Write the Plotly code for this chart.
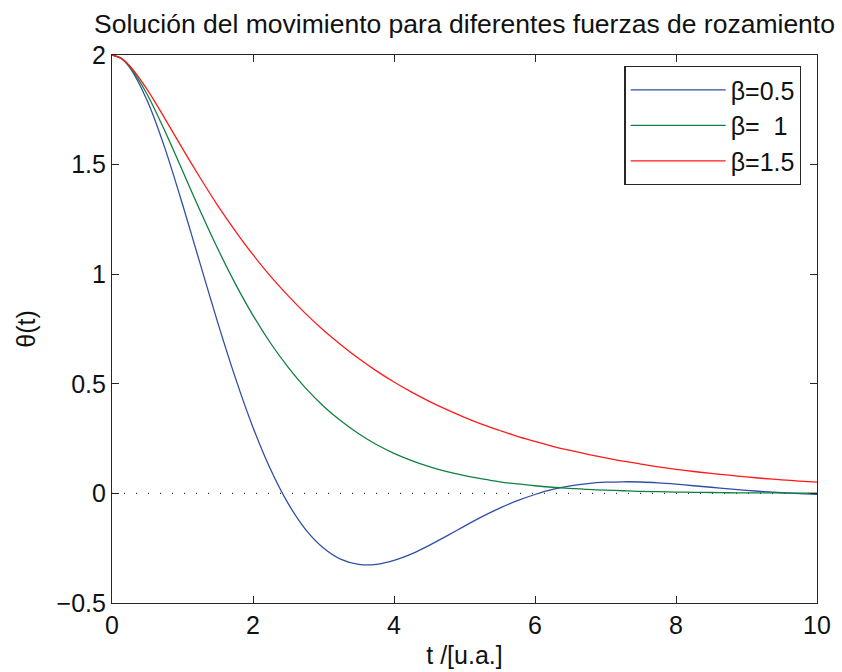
import plotly.graph_objects as go

# time grid
t = [0, 0.125] + [i * 0.25 for i in range(1, 41)]

theta_b05 = [2.000, 1.985, 1.943, 1.791, 1.575, 1.319, 1.048, 0.779, 0.527, 0.301, 0.109,
             -0.047, -0.166, -0.249, -0.301, -0.324, -0.324, -0.306, -0.276, -0.237, -0.194,
             -0.149, -0.106, -0.067, -0.033, -0.005, 0.018, 0.034, 0.045, 0.051, 0.053,
             0.052, 0.048, 0.042, 0.035, 0.028, 0.021, 0.014, 0.008, 0.003, -0.001, -0.004]

theta_b10 = [2.000, 1.986, 1.947, 1.820, 1.653, 1.472, 1.289, 1.116, 0.956, 0.812, 0.685,
             0.575, 0.479, 0.398, 0.330, 0.272, 0.223, 0.183, 0.150, 0.122, 0.099,
             0.081, 0.066, 0.053, 0.043, 0.035, 0.028, 0.023, 0.018, 0.015, 0.012,
             0.009, 0.008, 0.006, 0.005, 0.004, 0.003, 0.002, 0.002, 0.002, 0.001, 0.001]

theta_b15 = [2.000, 1.986, 1.951, 1.842, 1.710, 1.573, 1.440, 1.313, 1.197, 1.089, 0.990,
             0.901, 0.819, 0.744, 0.677, 0.615, 0.559, 0.508, 0.462, 0.420, 0.382,
             0.347, 0.315, 0.287, 0.260, 0.237, 0.215, 0.196, 0.178, 0.162, 0.147,
             0.134, 0.121, 0.110, 0.100, 0.091, 0.083, 0.075, 0.068, 0.062, 0.056, 0.051]

zero_t = [0, 10]
zero_y = [0, 0]

names = ["β=0.5", "β=\u00a0\u00a01", "β=1.5"]
colors = ["#2f4fa6", "#0f8040", "#ff1a1a"]
series = [theta_b05, theta_b10, theta_b15]

title_text = "Solución del movimiento para diferentes fuerzas de rozamiento"
xlabel = "t /[u.a.]"
ylabel = "θ(t)"

FONT = "Liberation Sans, Arial, Helvetica, sans-serif"
AX = "#262626"

fig = go.Figure()
fig.add_trace(go.Scatter(x=zero_t, y=zero_y, mode="lines",
                         line=dict(color="#333333", width=1.2, dash="1px,11px"),
                         showlegend=False, hoverinfo="skip"))
for i, (nm, col, ys) in enumerate(zip(names, colors, series)):
    fig.add_trace(go.Scatter(x=t, y=ys, mode="lines", name=nm,
                             line=dict(color=col, width=1.3, shape="spline", smoothing=0.8),
                             legendgroup=f"g{i}"))

axis_common = dict(showgrid=False, zeroline=False, showline=True, linecolor=AX, linewidth=1.2,
                   mirror="ticks", ticks="inside", ticklen=7, tickwidth=1.2, tickcolor=AX,
                   automargin=False,
                   tickfont=dict(family=FONT, size=25, color="#111111"))

fig.update_xaxes(range=[0, 10], tickvals=[0, 2, 4, 6, 8, 10],
                 title=dict(text=xlabel, font=dict(family=FONT, size=25, color="#111111"), standoff=8),
                 **axis_common)
fig.update_yaxes(range=[-0.5, 2], tickvals=[-0.5, 0, 0.5, 1, 1.5, 2],
                 title=dict(text=ylabel, font=dict(family=FONT, size=25, color="#111111"), standoff=13),
                 **axis_common)

fig.update_layout(
    width=842, height=672,
    margin=dict(l=112, r=25, t=55, b=69, autoexpand=False),
    paper_bgcolor="white", plot_bgcolor="white",
    font=dict(family=FONT, size=25, color="#111111"),
    title=dict(text=title_text, x=0.5, xref="paper", xanchor="center",
               y=1 - 24 / 672, yref="container", yanchor="middle",
               font=dict(family=FONT, size=26.5, color="#111111")),
    legend=dict(x=0.978, y=0.98, xanchor="right", yanchor="top",
                bgcolor="white", bordercolor=AX, borderwidth=1.2,
                font=dict(family=FONT, size=25, color="#111111"),
                itemwidth=95, tracegroupgap=0),
    showlegend=True,
)

fig.write_html("out.html")
